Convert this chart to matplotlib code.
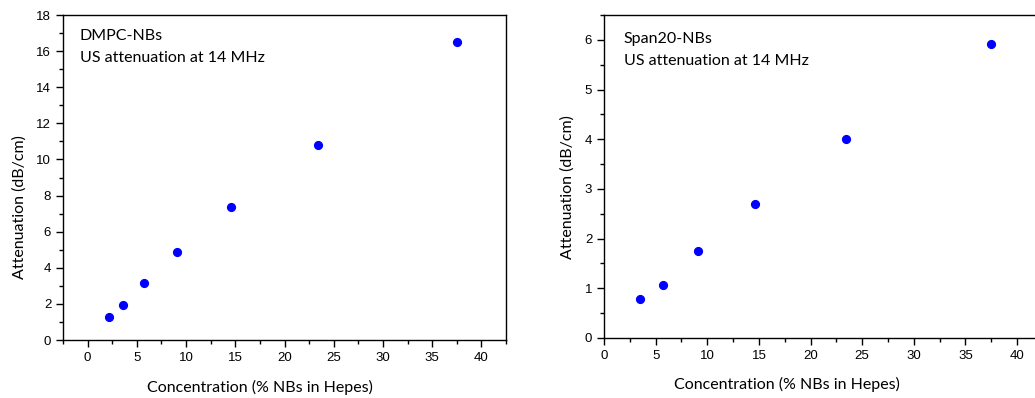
import matplotlib
matplotlib.use('Agg')
import matplotlib.pyplot as plt
from matplotlib.ticker import MultipleLocator

# data
dmpc_conc = [2.2, 3.6, 5.7, 9.1, 14.6, 23.4, 37.5]
dmpc_att = [1.3, 1.93, 3.15, 4.85, 7.38, 10.82, 16.52]
span_conc = [3.5, 5.7, 9.1, 14.6, 23.4, 37.5]
span_att = [0.78, 1.07, 1.76, 2.7, 4.0, 5.92]

TICK_FONT = 'Liberation Sans'
LABEL_FONT = 'Lato'

fig = plt.figure(figsize=(10.35, 3.98), dpi=100)
ax1 = fig.add_axes([0.0609, 0.1457, 0.428, 0.8166])
ax2 = fig.add_axes([0.5836, 0.1508, 0.424, 0.8116])


def style(ax, xlim, ylim, ymaj, ymin, xlab_pos, ylab_pos):
    ax.set_xlim(*xlim)
    ax.set_ylim(*ylim)
    ax.xaxis.set_major_locator(MultipleLocator(5))
    ax.xaxis.set_minor_locator(MultipleLocator(2.5))
    ax.yaxis.set_major_locator(MultipleLocator(ymaj))
    ax.yaxis.set_minor_locator(MultipleLocator(ymin))
    ax.tick_params(which='major', direction='out', length=5, width=1,
                   labelsize=9.5, labelfontfamily=TICK_FONT,
                   top=False, right=False)
    ax.tick_params(which='minor', direction='out', length=3, width=1,
                   top=False, right=False)
    for sp in ax.spines.values():
        sp.set_linewidth(1.0)
    ax.set_xlabel('Concentration (% NBs in Hepes)', fontsize=11.5,
                  family=LABEL_FONT)
    ax.set_ylabel('Attenuation (dB/cm)', fontsize=11.5, family=LABEL_FONT,
                  labelpad=7)
    ax.xaxis.set_label_coords(xlab_pos, -0.122)
    ax.yaxis.label.set_y(ylab_pos)


ax1.plot(dmpc_conc, dmpc_att, 'o', color='#0000ff', markersize=5.6)
style(ax1, (-2.5, 42.5), (0, 18), 2, 1, 0.445, 0.41)
ax1.text(0.038, 0.935, 'DMPC-NBs', transform=ax1.transAxes, fontsize=11.5,
         family=LABEL_FONT, va='center')
ax1.text(0.038, 0.868, 'US attenuation at 14 MHz', transform=ax1.transAxes,
         fontsize=11.5, family=LABEL_FONT, va='center')

ax2.plot(span_conc, span_att, 'o', color='#0000ff', markersize=5.6)
style(ax2, (0, 42.5), (0, 6.5), 1, 0.5, 0.417, 0.467)
ax2.text(0.045, 0.925, 'Span20-NBs', transform=ax2.transAxes, fontsize=11.5,
         family=LABEL_FONT, va='center')
ax2.text(0.045, 0.857, 'US attenuation at 14 MHz', transform=ax2.transAxes,
         fontsize=11.5, family=LABEL_FONT, va='center')

fig.savefig('out.png', dpi=100)
